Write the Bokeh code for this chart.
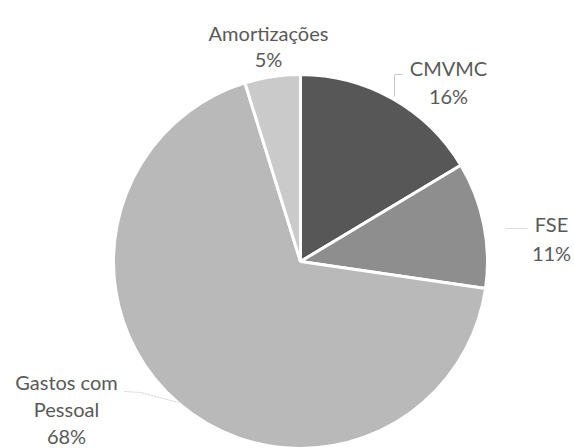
import math
from bokeh.plotting import figure
from bokeh.models import Range1d, ColumnDataSource
from bokeh.core.properties import value
from bokeh.embed import file_html
from bokeh.resources import INLINE

# ---- data ----
categories = ["CMVMC", "FSE", "Gastos com Pessoal", "Amortizações"]
shares = [16.4, 10.9, 67.9, 4.8]
label_lines = [["CMVMC", "16%"], ["FSE", "11%"], ["Gastos com", "Pessoal", "68%"], ["Amortizações", "5%"]]

# ---- style ----
colors = ["#575757", "#8e8e8e", "#b9b9b9", "#cacaca"]
W, H = 574, 448
cx, cy, R = 300, H - 261, 187
label_pos = [(448, H - 81), (551, H - 238), (66, H - 408), (268, H - 45)]
line_hs = [28, 29, 27, 26]
text_color = "#595959"

p = figure(width=W, height=H, output_backend="svg", toolbar_location=None,
           x_range=Range1d(0, W), y_range=Range1d(0, H), min_border=0)
p.axis.visible = False
p.grid.visible = False
p.outline_line_color = None
p.background_fill_color = "white"
p.border_fill_color = "white"

total = sum(shares)
starts, ends = [], []
acc = 0.0
for s in shares:
    a0 = math.pi / 2 - 2 * math.pi * acc / total
    acc += s
    a1 = math.pi / 2 - 2 * math.pi * acc / total
    starts.append(a0)
    ends.append(a1)

src = ColumnDataSource(dict(cat=categories, start=starts, end=ends, color=colors))
p.wedge(x=cx, y=cy, radius=R, start_angle="start", end_angle="end", direction="clock",
        fill_color="color", line_color="white", line_width=3, source=src)

# leader lines
p.line(x=[394, 394, 402], y=[H - 96, H - 74, H - 74], line_color="#c8c8c8", line_width=1)
p.line(x=[505, 527], y=[H - 228, H - 228], line_color="#dcdcdc", line_width=1)
p.line(x=[124, 140, 178], y=[H - 391, H - 392, H - 402], line_color="#cfcfcf", line_width=1,
       line_dash="2 1")

xs, ys, txt = [], [], []
for (lx, ly), lh, lines in zip(label_pos, line_hs, label_lines):
    n = len(lines)
    for i, t in enumerate(lines):
        xs.append(lx)
        ys.append(ly + (n - 1) * lh / 2 - i * lh)
        txt.append(t)
p.text(x=xs, y=ys, text=txt, text_align="center", text_baseline="middle",
       text_font=value("Lato"), text_font_size="20px", text_color=text_color)

open("out.html", "w").write(file_html(p, INLINE))
